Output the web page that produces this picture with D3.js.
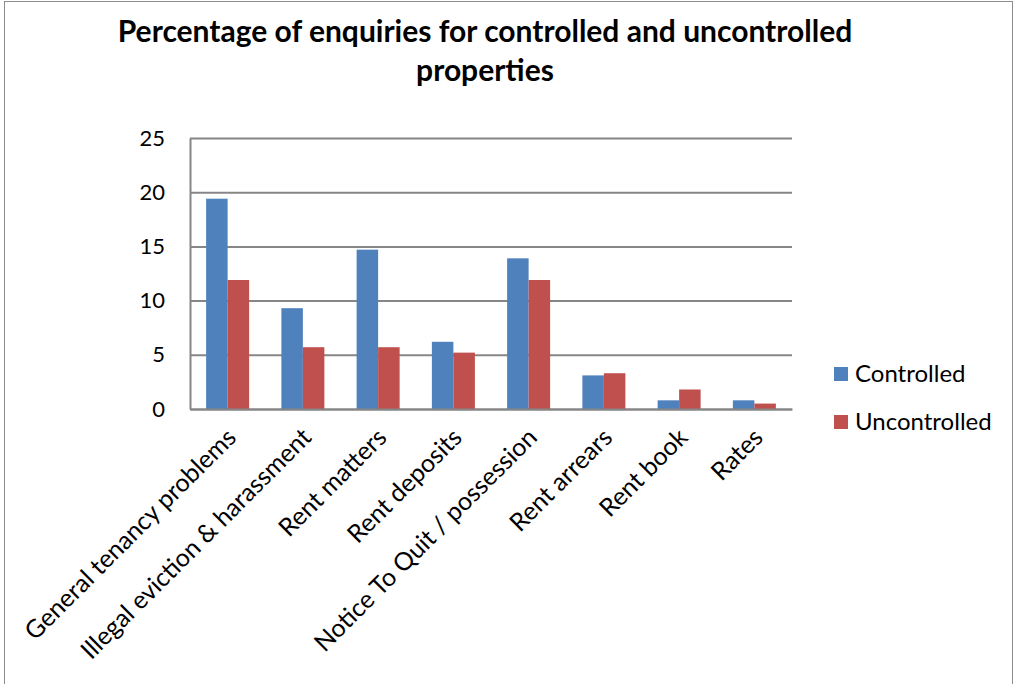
<!DOCTYPE html>
<html>
<head>
<meta charset="utf-8">
<script src="https://cdn.jsdelivr.net/npm/d3@7"></script>
<style>
  html, body { margin: 0; padding: 0; background: #fff; }
  svg { display: block; font-family: Lato, "Liberation Sans", sans-serif; }
</style>
</head>
<body>
<svg id="chart" width="1017" height="684"></svg>
<script>
// Enquiry categories and the share of enquiries (%) for each property type
const categories = [
  "General tenancy problems",
  "Illegal eviction & harassment",
  "Rent matters",
  "Rent deposits",
  "Notice To Quit / possession",
  "Rent arrears",
  "Rent book",
  "Rates"
];
const controlled   = [19.4, 9.3, 14.7, 6.2, 13.9, 3.1, 0.8, 0.8];
const uncontrolled = [11.9, 5.7, 5.7, 5.2, 11.9, 3.3, 1.8, 0.5];
const seriesNames  = ["Controlled", "Uncontrolled"];
const seriesColors = ["#4F81BD", "#C0504D"];
const yTicks       = [0, 5, 10, 15, 20, 25];

const svg = d3.select("#chart");
const W = 1017, H = 684;

// chart frame
svg.append("rect")
  .attr("x", 4.5).attr("y", 1.5)
  .attr("width", W - 9).attr("height", H + 10)
  .attr("fill", "#fff").attr("stroke", "#8c8c8c").attr("stroke-width", 1);

// plot area
const plot = { left: 190, right: 792, top: 138, bottom: 409 };

// one band per category; bars take 2 of 3.5 bar widths (gap = 1.5 bar widths)
const x0 = d3.scaleBand()
  .domain(categories)
  .range([plot.left, plot.right])
  .paddingInner(0).paddingOuter(0);
const barW = x0.bandwidth() / 3.5;

const x1 = d3.scaleBand()
  .domain(seriesNames)
  .range([0, barW * 2]);

const y = d3.scaleLinear().domain([0, 25]).range([plot.bottom, plot.top]);

// gridlines
const grid = svg.append("g")
  .attr("transform", `translate(${plot.left},0)`)
  .call(d3.axisLeft(y).tickValues(yTicks).tickSize(-(plot.right - plot.left)).tickFormat(""));
grid.select(".domain").remove();
grid.selectAll("line").attr("stroke", "#868686").attr("stroke-width", 2);

// y axis line and labels
const yAxis = svg.append("g")
  .attr("transform", `translate(${plot.left},0)`)
  .call(d3.axisLeft(y).tickValues(yTicks).tickSize(0).tickPadding(25));
yAxis.select(".domain").attr("stroke", "#868686").attr("stroke-width", 2);
yAxis.selectAll("text")
  .attr("font-size", 22).attr("fill", "#000")
  .attr("font-family", "Lato, sans-serif");

// bars
const series = [controlled, uncontrolled];
const groups = svg.append("g").selectAll("g")
  .data(categories)
  .join("g")
  .attr("transform", d => `translate(${x0(d) + x0.bandwidth() / 2 - barW},0)`);

groups.selectAll("rect")
  .data((d, i) => seriesNames.map((s, k) => ({ s, v: series[k][i], k })))
  .join("rect")
  .attr("x", d => x1(d.s))
  .attr("width", x1.bandwidth())
  .attr("y", d => y(d.v))
  .attr("height", d => y(0) - y(d.v))
  .attr("fill", d => seriesColors[d.k]);

// x axis baseline and rotated category labels
const xAxis = svg.append("g")
  .attr("transform", `translate(0,${plot.bottom})`)
  .call(d3.axisBottom(x0).tickSize(0).tickPadding(0));
xAxis.select(".domain").attr("stroke", "#868686").attr("stroke-width", 2);
xAxis.selectAll("text")
  .attr("font-size", 25).attr("fill", "#000")
  .attr("font-family", "Lato, sans-serif")
  .attr("text-anchor", "end")
  .attr("dy", null).attr("y", null)
  .attr("transform", "translate(10,30) rotate(-45)");

// title
const title = svg.append("text")
  .attr("text-anchor", "middle")
  .attr("font-weight", "bold")
  .attr("font-size", 30)
  .attr("fill", "#000");
title.append("tspan").attr("x", 485).attr("y", 42)
  .text("Percentage of enquiries for controlled and uncontrolled");
title.append("tspan").attr("x", 485).attr("y", 81)
  .text("properties");

// legend
const legend = svg.append("g").selectAll("g")
  .data(seriesNames)
  .join("g")
  .attr("transform", (d, i) => `translate(834,${367 + i * 48})`);
legend.append("rect")
  .attr("width", 14).attr("height", 14)
  .attr("fill", (d, i) => seriesColors[i]);
legend.append("text")
  .attr("x", 21).attr("y", 15)
  .attr("font-size", 24).attr("fill", "#000")
  .text(d => d);
</script>
</body>
</html>
